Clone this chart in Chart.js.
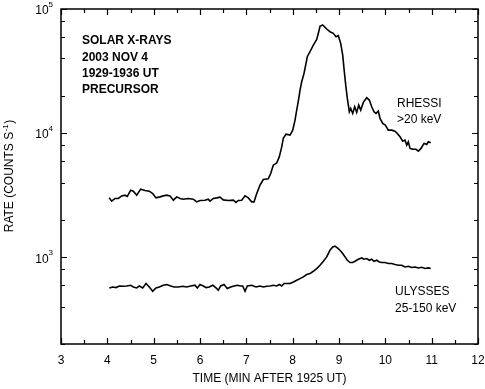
<!DOCTYPE html>
<html><head><meta charset="utf-8">
<script src="https://cdn.jsdelivr.net/npm/chart.js@4/dist/chart.umd.min.js"></script>
<style>html,body{margin:0;padding:0;background:#fff}#wrap{width:485px;height:389px}</style>
</head><body><div id="wrap"><canvas id="c" width="485" height="389"></canvas></div>
<script>
const rhessiTime = [4.040,4.094,4.166,4.237,4.310,4.381,4.431,4.504,4.561,4.634,4.720,4.813,4.906,4.979,5.050,5.137,5.208,5.281,5.353,5.424,5.497,5.569,5.640,5.748,5.856,5.929,6.000,6.108,6.179,6.216,6.287,6.361,6.432,6.503,6.611,6.719,6.777,6.827,6.900,6.972,7.043,7.116,7.166,
 7.224,7.295,7.367,7.474,7.526,7.582,7.656,7.712,7.764,7.798,7.856,7.943,8.001,8.051,8.087,8.122,8.159,8.195,8.245,8.288,8.316,8.374,8.446,8.519,8.554,8.590,8.648,8.735,8.806,8.877,8.936,8.985,
 9.037,9.080,9.115,9.145,9.180,9.223,9.253,9.296,9.339,9.382,9.426,9.469,9.525,9.598,9.654,9.706,9.756,9.799,9.849,9.885,9.943,10.000,10.064,10.138,10.209,10.259,10.317,10.375,10.425,10.462,10.496,10.533,10.591,10.662,10.712,10.770,10.835,10.893,10.928,10.980];
const rhessiRate = [3010,2830,2975,2975,3122,3162,3087,3470,3407,3162,3535,3450,3407,3264,3008,3064,3122,3162,3122,2882,3064,2975,2936,2975,2936,2793,2866,2882,2936,2830,2975,3008,3047,2898,2866,2882,2762,2866,2882,3122,3008,2793,2793,
 3264,3807,4232,4280,4732,5520,5761,6440,7755,9064,9816,9636,10573,12727,15330,18120,22230,25930,30310,36490,41250,45260,51250,56960,63680,72530,74300,68990,65600,63680,59800,60920,
 52890,42560,31220,24390,19050,14850,15820,14410,16300,14690,16820,15330,17690,19270,18460,16300,14850,14410,15040,13140,11970,11600,10570,10570,10380,9945,9337,8620,8780,8000,8510,7528,7430,7410,7157,7528,8260,8110,8510,8354];

const ulyssesTime = [4.043,4.116,4.187,4.258,4.345,4.418,4.504,4.561,4.634,4.690,4.763,4.835,4.906,4.979,5.050,5.122,5.208,5.281,5.368,5.439,5.532,5.627,5.713,5.799,5.892,5.942,6.000,6.071,6.130,6.201,6.274,6.346,6.395,6.447,6.518,6.589,6.663,6.734,6.805,6.879,6.922,6.972,7.021,7.116,7.209,7.295,7.367,7.440,7.511,7.582,7.656,7.712,7.764,7.813,7.884,7.943,
 8.015,8.088,8.159,8.230,8.303,8.374,8.446,8.519,8.590,8.662,8.735,8.806,8.864,8.914,8.964,9.022,9.080,9.130,9.180,9.238,9.296,9.346,9.417,9.490,9.540,9.598,9.654,9.706,9.756,9.814,9.870,9.922,9.993,10.064,10.138,10.209,10.280,10.354,10.425,10.496,10.570,10.641,10.712,10.785,10.857,10.928,10.980];
const ulyssesRate = [566,576,570,587,584,587,595,576,566,587,566,614,576,532,566,576,595,603,587,576,576,584,576,587,595,566,603,587,570,576,595,566,542,587,603,559,576,587,595,587,587,532,587,595,576,587,576,584,587,595,587,603,587,614,614,614,
 632,652,673,694,725,739,771,811,862,928,1006,1139,1211,1227,1189,1139,1071,1006,946,906,906,928,964,987,964,976,946,964,928,946,917,906,906,890,890,873,862,862,835,846,826,835,820,831,811,820,811];

const xTickValues = [3,4,5,6,7,8,9,10,11,12];
const yDecadeValues = [1e3,1e4,1e5];
const yDecadeExponents = ['3','4','5'];
const yMinorValues = [200,400,600,800,2000,4000,6000,8000,20000,40000,60000,80000];
const infoLines = ['SOLAR X-RAYS','2003 NOV 4','1929-1936 UT','PRECURSOR'];
const rhessiLabel = ['RHESSI','>20 keV'];
const ulyssesLabel = ['ULYSSES','25-150 keV'];
const xTitle = 'TIME (MIN AFTER 1925 UT)';
const yTitleParts = ['RATE (COUNTS S','-1',')'];

const FONT = '"Liberation Sans", Arial, Helvetica, sans-serif';

function pairs(t, v) { return t.map((x, i) => ({x: x, y: v[i]})); }

const decor = {
  id: 'decor',
  afterDraw(chart) {
    const ctx = chart.ctx;
    const a = chart.chartArea;
    const xs = chart.scales.x, ys = chart.scales.y;
    ctx.save();
    ctx.strokeStyle = '#000';
    ctx.fillStyle = '#000';
    ctx.lineWidth = 1.5;
    ctx.strokeRect(a.left, a.top, a.right - a.left, a.bottom - a.top);
    ctx.lineWidth = 1.2;
    ctx.beginPath();
    for (let v = 3; v <= 12.001; v += 0.5) {
      const px = Math.round(xs.getPixelForValue(v)) + 0.5;
      const len = (Math.abs(v - Math.round(v)) < 1e-6) ? 6 : 4;
      ctx.moveTo(px, a.bottom); ctx.lineTo(px, a.bottom - len);
      ctx.moveTo(px, a.top); ctx.lineTo(px, a.top + len);
    }
    yDecadeValues.forEach(v => {
      const py = Math.round(ys.getPixelForValue(v)) + 0.5;
      ctx.moveTo(a.left, py); ctx.lineTo(a.left + 6, py);
      ctx.moveTo(a.right, py); ctx.lineTo(a.right - 6, py);
    });
    yMinorValues.forEach(v => {
      const py = Math.round(ys.getPixelForValue(v)) + 0.5;
      ctx.moveTo(a.left, py); ctx.lineTo(a.left + 4, py);
      ctx.moveTo(a.right, py); ctx.lineTo(a.right - 4, py);
    });
    ctx.stroke();

    yDecadeValues.forEach((v, i) => {
      const py = ys.getPixelForValue(v);
      ctx.font = '8px ' + FONT;
      ctx.textAlign = 'right';
      ctx.textBaseline = 'middle';
      const ew = ctx.measureText(yDecadeExponents[i]).width;
      const right = a.left - 8;
      ctx.fillText(yDecadeExponents[i], right, py - 4);
      ctx.font = '12px ' + FONT;
      ctx.fillText('10', right - ew, py + 2);
    });

    ctx.save();
    ctx.translate(10, 176);
    ctx.rotate(-Math.PI / 2);
    ctx.textBaseline = 'middle';
    ctx.textAlign = 'left';
    ctx.font = '12px ' + FONT;
    const w1 = ctx.measureText(yTitleParts[0]).width;
    const w3 = ctx.measureText(yTitleParts[2]).width;
    ctx.font = '8px ' + FONT;
    const w2 = ctx.measureText(yTitleParts[1]).width;
    let x0 = -(w1 + w2 + w3 + 1) / 2;
    ctx.font = '12px ' + FONT;
    ctx.fillText(yTitleParts[0], x0, 0);
    ctx.font = '8px ' + FONT;
    ctx.fillText(yTitleParts[1], x0 + w1 + 0.5, -4);
    ctx.font = '12px ' + FONT;
    ctx.fillText(yTitleParts[2], x0 + w1 + w2 + 1, 0);
    ctx.restore();

    ctx.textAlign = 'left';
    ctx.textBaseline = 'middle';
    ctx.font = 'bold 12px ' + FONT;
    infoLines.forEach((s, i) => ctx.fillText(s, 82, 41 + i * 16.3));
    ctx.font = '12px ' + FONT;
    rhessiLabel.forEach((s, i) => ctx.fillText(s, 397, 104 + i * 15.5));
    ulyssesLabel.forEach((s, i) => ctx.fillText(s, 395, 292 + i * 16.5));
    ctx.restore();
  }
};

new Chart(document.getElementById('c'), {
  type: 'line',
  data: {
    datasets: [
      {label: 'RHESSI', data: pairs(rhessiTime, rhessiRate), borderColor: '#000', borderWidth: 1.6, pointRadius: 0, tension: 0, fill: false},
      {label: 'ULYSSES', data: pairs(ulyssesTime, ulyssesRate), borderColor: '#000', borderWidth: 1.6, pointRadius: 0, tension: 0, fill: false}
    ]
  },
  options: {
    responsive: false,
    animation: false,
    devicePixelRatio: 1,
    layout: {padding: {top: 9, right: 7, left: 0, bottom: 0}},
    plugins: {legend: {display: false}, tooltip: {enabled: false}},
    scales: {
      x: {
        type: 'linear', min: 3, max: 12,
        afterBuildTicks: s => { s.ticks = xTickValues.map(v => ({value: v})); },
        ticks: {color: '#000', font: {family: FONT, size: 12}, padding: 9, maxRotation: 0, autoSkip: false},
        grid: {display: false, drawTicks: false},
        border: {display: false},
        title: {display: true, text: xTitle, color: '#000', font: {family: FONT, size: 12}, padding: {top: 0, bottom: 3}},
        afterFit: s => { s.height = 45; s.paddingLeft = 0; s.paddingRight = 0; }
      },
      y: {
        type: 'logarithmic', min: 200, max: 100000,
        ticks: {display: false},
        grid: {display: false, drawTicks: false},
        border: {display: false},
        afterFit: s => { s.width = 61; s.paddingTop = 0; s.paddingBottom = 0; }
      }
    }
  },
  plugins: [decor]
});
</script>
</body></html>
